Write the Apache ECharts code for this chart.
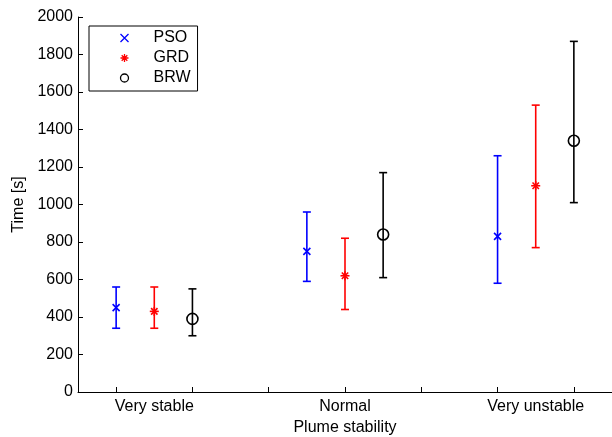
<!DOCTYPE html>
<html><head><meta charset="utf-8">
<script src="https://cdn.jsdelivr.net/npm/echarts@6/dist/echarts.min.js"></script>
<style>html,body{margin:0;padding:0;background:#fff}#c{width:612px;height:437px}</style>
</head><body><div id="c"></div>
<script>
const categories = ['Very stable', 'Normal', 'Very unstable'];
const categoryPositions = [1.5, 4, 6.5];
const tickPositions = [1, 2, 3, 4, 5, 6, 7];
const yTicks = [0, 200, 400, 600, 800, 1000, 1200, 1400, 1600, 1800, 2000];

const psoX = [1, 3.5, 6];
const psoMean = [450, 750, 830];
const psoLow = [340, 590, 580];
const psoHigh = [560, 960, 1260];

const grdX = [1.5, 4, 6.5];
const grdMean = [430, 620, 1100];
const grdLow = [340, 440, 770];
const grdHigh = [560, 820, 1530];

const brwX = [2, 4.5, 7];
const brwMean = [390, 840, 1340];
const brwLow = [300, 610, 1010];
const brwHigh = [550, 1170, 1870];

const FONT = 'Liberation Sans';
const FS = 16;

function rows(xs, lo, mean, hi) {
  return xs.map((x, i) => [x, lo[i], mean[i], hi[i]]);
}

function makeRender(color, marker) {
  return function (params, api) {
    const x = api.value(0);
    const lo = api.coord([x, api.value(1)]);
    const m = api.coord([x, api.value(2)]);
    const hi = api.coord([x, api.value(3)]);
    const st = { stroke: color, lineWidth: 1.6, fill: null };
    const cw = 4;
    const ch = [
      { type: 'line', shape: { x1: lo[0], y1: lo[1], x2: hi[0], y2: hi[1] }, style: st },
      { type: 'line', shape: { x1: lo[0] - cw, y1: lo[1], x2: lo[0] + cw, y2: lo[1] }, style: st },
      { type: 'line', shape: { x1: hi[0] - cw, y1: hi[1], x2: hi[0] + cw, y2: hi[1] }, style: st }
    ];
    const ms = { stroke: color, lineWidth: 1.6, fill: null };
    if (marker === 'x') {
      const r = 3.5;
      ch.push({ type: 'line', shape: { x1: m[0] - r, y1: m[1] - r, x2: m[0] + r, y2: m[1] + r }, style: ms });
      ch.push({ type: 'line', shape: { x1: m[0] - r, y1: m[1] + r, x2: m[0] + r, y2: m[1] - r }, style: ms });
    } else if (marker === 'star') {
      const r = 4.5, d = 3.2;
      ch.push({ type: 'line', shape: { x1: m[0] - r, y1: m[1], x2: m[0] + r, y2: m[1] }, style: ms });
      ch.push({ type: 'line', shape: { x1: m[0], y1: m[1] - r, x2: m[0], y2: m[1] + r }, style: ms });
      ch.push({ type: 'line', shape: { x1: m[0] - d, y1: m[1] - d, x2: m[0] + d, y2: m[1] + d }, style: ms });
      ch.push({ type: 'line', shape: { x1: m[0] - d, y1: m[1] + d, x2: m[0] + d, y2: m[1] - d }, style: ms });
    } else {
      ch.push({ type: 'circle', shape: { cx: m[0], cy: m[1], r: 5.5 }, style: { stroke: color, lineWidth: 1.6, fill: 'none' } });
    }
    return { type: 'group', children: ch };
  };
}

const chart = echarts.init(document.getElementById('c'), null, { renderer: 'canvas' });
chart.setOption({
  animation: false,
  backgroundColor: '#fff',
  textStyle: { fontFamily: FONT },
  grid: { left: 78, right: 0, top: 17, bottom: 45, containLabel: false, outerBoundsMode: 'none' },
  legend: {
    orient: 'vertical',
    left: 89, top: 26,
    padding: [2, 7, 3, 29],
    backgroundColor: '#fff',
    borderColor: '#000',
    borderWidth: 1,
    borderRadius: 0,
    itemWidth: 8, itemHeight: 8,
    itemGap: 0,
    textStyle: { fontFamily: FONT, fontSize: FS, color: '#000', lineHeight: 20, padding: [0, 0, 0, 20] },
    data: [
      { name: 'PSO', icon: 'path://M0,0L10,10M10,0L0,10', itemStyle: { color: 'none', borderColor: '#0000ff', borderWidth: 1.3 } },
      { name: 'GRD', icon: 'path://M0,5L10,5M5,0L5,10M1.5,1.5L8.5,8.5M1.5,8.5L8.5,1.5', itemStyle: { color: 'none', borderColor: '#ff0000', borderWidth: 1.3 } },
      { name: 'BRW', icon: 'circle', itemStyle: { color: 'none', borderColor: '#000000', borderWidth: 1.3 } }
    ]
  },
  xAxis: [
    {
      type: 'value', min: 0.5, max: 7.5, position: 'bottom',
      axisLine: { show: true, lineStyle: { color: '#000', width: 1 } },
      axisTick: { show: true, inside: true, length: 5, customValues: tickPositions, lineStyle: { color: '#000', width: 1 } },
      axisLabel: { show: false },
      splitLine: { show: false }
    },
    {
      type: 'value', min: 0.5, max: 7.5, position: 'bottom', offset: 0,
      name: 'Plume stability', nameLocation: 'middle', nameGap: 27,
      nameTextStyle: { fontFamily: FONT, fontSize: FS, color: '#000' },
      axisLine: { show: false },
      axisTick: { show: false },
      axisLabel: {
        show: true, margin: 7, fontFamily: FONT, fontSize: FS, color: '#000',
        customValues: categoryPositions,
        formatter: v => { const i = categoryPositions.indexOf(v); return i >= 0 ? categories[i] : ''; }
      },
      splitLine: { show: false }
    }
  ],
  yAxis: {
    type: 'value', min: 0, max: 2000, interval: 200,
    name: 'Time [s]', nameLocation: 'middle', nameGap: 39, nameRotate: 90,
    nameTextStyle: { fontFamily: FONT, fontSize: FS, color: '#000' },
    axisLine: { show: true, lineStyle: { color: '#000', width: 1 } },
    axisTick: { show: true, inside: true, length: 5, lineStyle: { color: '#000' } },
    axisLabel: { margin: 5, fontFamily: FONT, fontSize: FS, color: '#000',
      formatter: v => (yTicks.indexOf(v) >= 0 ? String(v) : '') },
    splitLine: { show: false }
  },
  series: [
    { name: 'PSO', type: 'custom', xAxisIndex: 0, itemStyle: { color: '#0000ff' }, renderItem: makeRender('#0000ff', 'x'),
      encode: { x: 0, y: [1, 2, 3] }, data: rows(psoX, psoLow, psoMean, psoHigh) },
    { name: 'GRD', type: 'custom', xAxisIndex: 0, itemStyle: { color: '#ff0000' }, renderItem: makeRender('#ff0000', 'star'),
      encode: { x: 0, y: [1, 2, 3] }, data: rows(grdX, grdLow, grdMean, grdHigh) },
    { name: 'BRW', type: 'custom', xAxisIndex: 0, itemStyle: { color: '#000000' }, renderItem: makeRender('#000000', 'circle'),
      encode: { x: 0, y: [1, 2, 3] }, data: rows(brwX, brwLow, brwMean, brwHigh) }
  ]
});
</script></body></html>
